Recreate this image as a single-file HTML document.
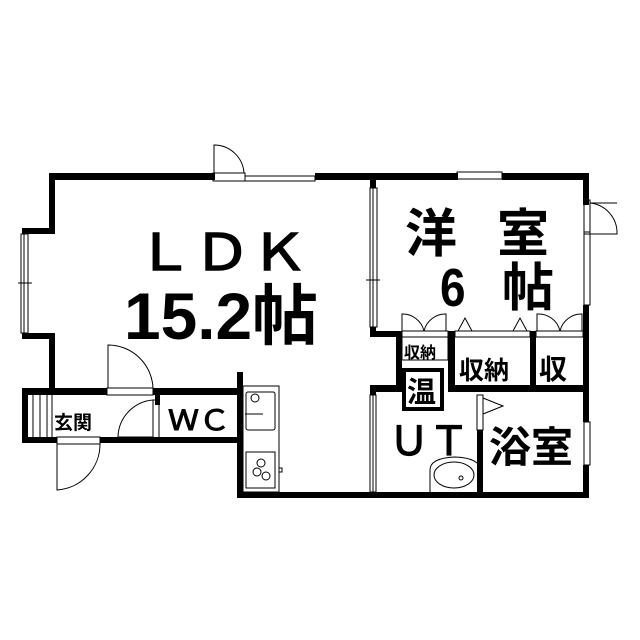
<!DOCTYPE html>
<html><head><meta charset="utf-8"><style>
html,body{margin:0;padding:0;background:#fff}
svg{display:block}
text{font-family:"Liberation Sans","Noto Sans CJK JP",sans-serif;fill:#000;font-weight:bold}
</style></head><body>
<svg width="640" height="640" viewBox="0 0 640 640" xmlns="http://www.w3.org/2000/svg">
<g fill="#000">
<rect x="49" y="173" width="166" height="7"/>
<rect x="315" y="173" width="143" height="7"/>
<rect x="502" y="173" width="87" height="7"/>
<rect x="583" y="173" width="6" height="32"/>
<rect x="583" y="305" width="6" height="117"/>
<rect x="583" y="465" width="6" height="33"/>
<rect x="49" y="173" width="6" height="57"/>
<rect x="22" y="228" width="33" height="6"/>
<rect x="22" y="333" width="33" height="6"/>
<rect x="49" y="333" width="6" height="58"/>
<rect x="22" y="388" width="85" height="7"/>
<rect x="153" y="388" width="90" height="7"/>
<rect x="22" y="388" width="6" height="55"/>
<rect x="22" y="437" width="35" height="6"/>
<rect x="100" y="437" width="143" height="6"/>
<rect x="237" y="372" width="6" height="126"/>
<rect x="237" y="492" width="352" height="6"/>
<rect x="370" y="180" width="6" height="8"/>
<rect x="370" y="327" width="6" height="10"/>
<rect x="370" y="331" width="31" height="6"/>
<rect x="396" y="331" width="6" height="60"/>
<rect x="370" y="385" width="32" height="7"/>
<rect x="370" y="385" width="6" height="10"/>
<rect x="448" y="331" width="7" height="61"/>
<rect x="448" y="385" width="141" height="7"/>
<rect x="530" y="331" width="6" height="61"/>
<rect x="477" y="430" width="6" height="65"/>
<rect x="155" y="395" width="5" height="10"/>
</g>
<g fill="none" stroke="#000" stroke-width="1">
<rect x="245" y="176" width="70" height="5"/>
<rect x="457" y="172" width="45" height="7"/>
<rect x="21" y="234" width="7" height="99"/>
<line x1="24" y1="234" x2="24" y2="333"/>
<line x1="18" y1="283" x2="32" y2="283"/>
<rect x="370" y="188" width="7" height="139"/>
<line x1="373" y1="188" x2="373" y2="327"/>
<line x1="366" y1="280" x2="380" y2="280"/>
<rect x="370" y="395" width="6" height="97"/>
<line x1="373" y1="395" x2="373" y2="492"/>
<rect x="584" y="232" width="6" height="73"/>
<rect x="584" y="422" width="6" height="43"/>
<rect x="213" y="173" width="32" height="8"/>
<path d="M214 173 V145 A30 30 0 0 1 244 173"/>
<rect x="584" y="200" width="6" height="34"/>
<path d="M590 234 H617 A30 30 0 0 0 590 203 "/>
<line x1="590" y1="203" x2="617" y2="203"/>
<rect x="107" y="388" width="46" height="7"/>
<path d="M108 388 V345 A45 45 0 0 1 153 388"/>
<rect x="153" y="400" width="6" height="38"/>
<path d="M153 400 A38 38 0 0 0 118 437 H153"/>
<rect x="57" y="437" width="43" height="7"/>
<path d="M57 444 V490 A46 46 0 0 0 100 444"/>
<line x1="33" y1="395" x2="33" y2="437"/>
<line x1="40" y1="395" x2="40" y2="437"/>
<line x1="47" y1="395" x2="47" y2="437"/>
<line x1="52" y1="395" x2="52" y2="437"/>
<rect x="477" y="395" width="6" height="35"/>
<path d="M483 398 L503 406 L483 414"/>
<rect x="402" y="331" width="46" height="6"/>
<path d="M402 331 V314 A22 22 0 0 1 424 331 A22 22 0 0 1 446 314 V331"/>
<rect x="455" y="331" width="75" height="6"/>
<path d="M458 331 L465 318 L472 331 M513 331 L520 318 L527 331"/>
<rect x="536" y="331" width="47" height="6"/>
<path d="M537 331 V314 A22 22 0 0 1 560 331 A22 22 0 0 1 582 314 V331"/>
<rect x="402" y="337" width="46" height="23"/>
<rect x="243" y="386" width="36" height="106"/>
<rect x="246" y="392" width="29" height="38" rx="2"/>
<circle cx="255" cy="398" r="4"/>
<line x1="245" y1="414" x2="263" y2="414"/>
<rect x="246" y="452" width="29" height="36"/>
<circle cx="261" cy="463" r="4"/><circle cx="257" cy="472" r="4"/><circle cx="266" cy="476" r="4"/>
<rect x="279" y="468" width="3" height="4"/>
<path d="M430 492 V470 Q430 458 455 457 Q480 458 480 470 V492"/>
<ellipse cx="454" cy="475" rx="20" ry="13"/>
<circle cx="461" cy="478" r="2"/>
</g>
<rect x="404" y="370" width="38" height="39" fill="none" stroke="#000" stroke-width="4"/>
<text x="136" y="270" font-size="50" textLength="172" lengthAdjust="spacingAndGlyphs" style="font-weight:normal;stroke:#000;stroke-width:1.5">ＬＤＫ</text>
<text x="124" y="339" font-size="66" textLength="194" lengthAdjust="spacingAndGlyphs">15.2帖</text>
<text x="405" y="252" font-size="52">洋</text>
<text x="497" y="252" font-size="52">室</text>
<text x="440" y="306" font-size="54" transform="scale(0.85,1)" style="transform-origin:440px 306px">6</text>
<text x="502" y="306" font-size="52">帖</text>
<text x="54" y="429" font-size="19">玄関</text>
<text x="168" y="430" font-size="28" textLength="62" lengthAdjust="spacingAndGlyphs" style="font-weight:normal;stroke:#000;stroke-width:1">ＷＣ</text>
<text x="404" y="358" font-size="16">収納</text>
<text x="459" y="379" font-size="25">収納</text>
<text x="539" y="379" font-size="28">収</text>
<text x="407" y="402" font-size="29">温</text>
<text x="389" y="455" font-size="40" textLength="80" lengthAdjust="spacingAndGlyphs" style="font-weight:normal;stroke:#000;stroke-width:1.2">ＵＴ</text>
<text x="489" y="462" font-size="42">浴室</text>
</svg>
</body></html>
